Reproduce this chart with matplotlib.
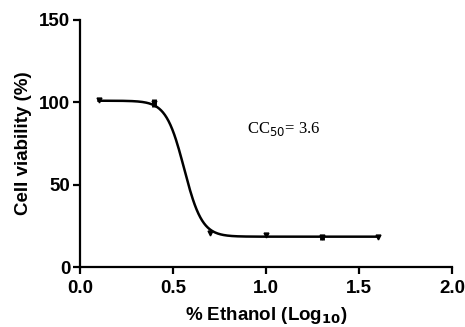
import numpy as np
import matplotlib.pyplot as plt

# data
log_conc = [0.1, 0.4, 0.7, 1.0, 1.3, 1.6]
viability = [101.5, 99.5, 20.5, 19.5, 18.0, 18.0]
sem = [0.0, 2.5, 0.0, 0.0, 1.5, 0.0]

# four-parameter fit shown in the original
top, bottom = 101.0, 18.5
log_cc50, hill = 0.56, 9.0

if __name__ == '__main__':
    plt.rcParams['font.family'] = ['Liberation Sans', 'DejaVu Sans']
    fig = plt.figure(figsize=(4.65, 3.27), dpi=100)
    ax = fig.add_axes([0.172, 0.183, 0.8, 0.756])

    x = np.linspace(min(log_conc), max(log_conc), 300)
    y = bottom + (top - bottom) / (1 + 10 ** ((x - log_cc50) * hill))
    ax.plot(x, y, color='black', lw=1.8)

    ax.errorbar(log_conc, viability, yerr=sem, fmt='v', color='black',
                ms=3.5, elinewidth=3.5, capsize=0)

    ax.text(0.9, 84, 'CC$_{50}$= 3.6', family='Liberation Serif', fontsize=12,
            va='center', ha='left')

    ax.set_xlim(0, 2.0)
    ax.set_ylim(0, 150)
    ax.set_xticks([0.0, 0.5, 1.0, 1.5, 2.0])
    ax.set_yticks([0, 50, 100, 150])
    ax.set_xticklabels(['0.0', '0.5', '1.0', '1.5', '2.0'])
    ax.spines['top'].set_visible(False)
    ax.spines['right'].set_visible(False)
    for s in ['left', 'bottom']:
        ax.spines[s].set_linewidth(1.6)
    ax.tick_params(width=1.6, length=5, labelsize=13.5, pad=2)
    ax.tick_params(axis='x', pad=4)
    for lab in ax.get_xticklabels() + ax.get_yticklabels():
        lab.set_fontweight('bold')

    ax.set_xlabel('% Ethanol (Log$_{\\mathbf{10}}$)', fontsize=13.5, fontweight='bold', labelpad=6)
    ax.set_ylabel('Cell viability (%)', fontsize=13.5, fontweight='bold', labelpad=5)

    fig.savefig('out.png', dpi=100)
